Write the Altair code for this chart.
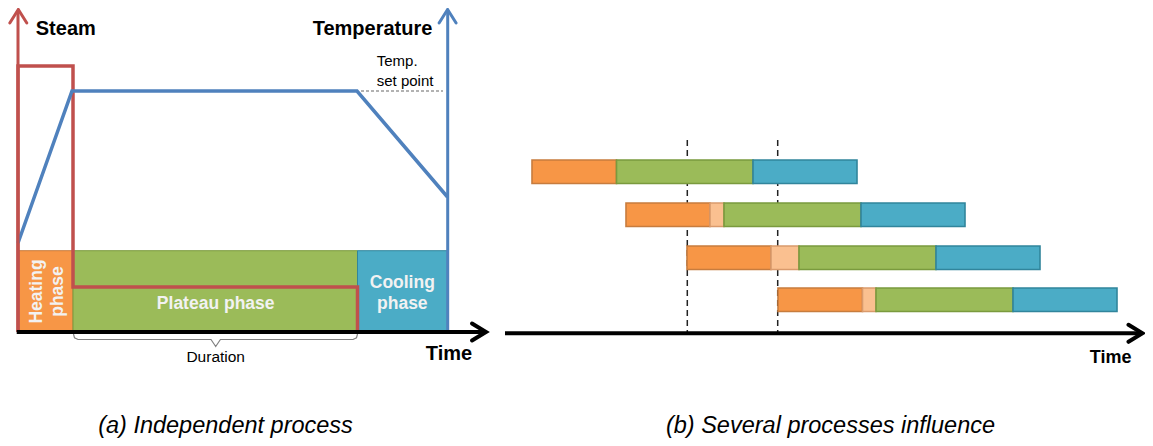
import altair as alt
import pandas as pd

# ---------------- data (diagram units = reference pixel grid) ----------------
# (a) independent process
phase_names = ["Heating", "Plateau", "Cooling"]
phase_edges = [18, 73, 357.5, 447.5]
phase_top = 250.7
base_y = 332
steam_x = [18, 18, 73, 73, 357.5, 357.5]
steam_y = [332, 66, 66, 287, 287, 332]
temp_x = [18, 72, 357, 447.5]
temp_y = [243, 91, 91, 197]
setpoint_x = [361, 443]
setpoint_y = 91

# (b) several processes
row_start = [532, 626, 687, 778]
heat_len = [84.5, 84, 84, 84.5]
wait_len = [0, 14, 28, 13.5]
plateau_len = [136.5, 137, 137, 137]
cool_len = [104, 104, 104, 104]
row_top = [160, 203, 246, 288]
row_h = 23.5
sync_times = [687.3, 777.7]
sync_top = 140

fills = {"Heating": "#F79646", "Wait": "#FAC090", "Plateau": "#9BBB59", "Cooling": "#4BACC6"}
edges = {"Heating": "#C77C3E", "Wait": "#D99A6C", "Plateau": "#7A9A3E", "Cooling": "#31859C"}

# ---------------- scales ----------------
W, H = 1137, 430
xs = alt.Scale(domain=[8, 8 + W], nice=False, zero=False)
ys = alt.Scale(domain=[8, 8 + H], nice=False, zero=False, reverse=True)


def X(f):
    return alt.X(f, type="quantitative", scale=xs, axis=None)


def Y(f):
    return alt.Y(f, type="quantitative", scale=ys, axis=None)


# ---------------- rectangles ----------------
rects = []
for i, name in enumerate(phase_names):
    rects.append(dict(x=phase_edges[i], x2=phase_edges[i + 1], y=phase_top, y2=base_y,
                      fill=fills[name], stroke=edges[name], w=1))
for i in range(len(row_start)):
    t = row_start[i]
    for name, ln in [("Heating", heat_len[i]), ("Wait", wait_len[i]),
                     ("Plateau", plateau_len[i]), ("Cooling", cool_len[i])]:
        if ln > 0:
            rects.append(dict(x=t, x2=t + ln, y=row_top[i], y2=row_top[i] + row_h,
                              fill=fills[name], stroke=edges[name], w=1.6))
        t += ln
rect_df = pd.DataFrame(rects)

rect_layer = alt.Chart(rect_df).mark_rect().encode(
    x=X("x"), x2="x2", y=Y("y"), y2="y2",
    fill=alt.Fill("fill:N", scale=None),
    stroke=alt.Stroke("stroke:N", scale=None),
    strokeWidth=alt.StrokeWidth("w:Q", scale=None),
)

# ---------------- sync dashed lines ----------------
sync_df = pd.DataFrame({"x": sync_times, "y": [sync_top] * 2, "y2": [base_y] * 2})
sync_layer = alt.Chart(sync_df).mark_rule(strokeDash=[6, 4], strokeWidth=1.5, color="#222222").encode(
    x=X("x"), y=Y("y"), y2="y2")

# ---------------- steam / temperature curves ----------------
steam_df = pd.DataFrame({"x": steam_x, "y": steam_y, "o": range(len(steam_x))})
steam_layer = alt.Chart(steam_df).mark_line(color="#C0504D", strokeWidth=3.5, strokeJoin="miter").encode(
    x=X("x"), y=Y("y"), order="o:Q")
temp_df = pd.DataFrame({"x": temp_x, "y": temp_y, "o": range(len(temp_x))})
temp_layer = alt.Chart(temp_df).mark_line(color="#4F81BD", strokeWidth=3.5, strokeJoin="miter").encode(
    x=X("x"), y=Y("y"), order="o:Q")

setp_df = pd.DataFrame({"x": [setpoint_x[0]], "x2": [setpoint_x[1]], "y": [setpoint_y]})
setp_layer = alt.Chart(setp_df).mark_rule(strokeDash=[3, 2], strokeWidth=1.2, color="#666666").encode(
    x=X("x"), x2="x2", y=Y("y"))

# ---------------- axes ----------------
axes_df = pd.DataFrame({
    "x": [18, 447.7, 16.7, 505],
    "x2": [18, 447.7, 484, 1141],
    "y": [332, 332, 332, 333.3],
    "y2": [10, 10, 332, 333.3],
    "c": ["#C0504D", "#4F81BD", "#000000", "#000000"],
    "w": [3, 3, 4, 4],
})
axes_layer = alt.Chart(axes_df).mark_rule().encode(
    x=X("x"), x2="x2", y=Y("y"), y2="y2",
    color=alt.Color("c:N", scale=None), size=alt.Size("w:Q", scale=None))

# arrow heads (chevrons)
tips = [("red", 18.3, 9.5, "up", "#C0504D", 3), ("blue", 447.6, 9.5, "up", "#4F81BD", 3),
        ("ta", 486, 332, "right", "#000000", 4), ("tb", 1142.5, 333.3, "right", "#000000", 4)]
arrow_rows = []
for aid, tx, ty, d, c, w in tips:
    if d == "up":
        pts = [(tx - 8.5, ty + 13.5), (tx, ty), (tx + 8.5, ty + 13.5)]
    else:
        pts = [(tx - 14, ty - 8.5), (tx, ty), (tx - 14, ty + 8.5)]
    for k, (px, py) in enumerate(pts):
        arrow_rows.append(dict(id=aid, x=px, y=py, o=k, c=c, w=w))
arrow_df = pd.DataFrame(arrow_rows)
arrow_layer = alt.Chart(arrow_df).mark_line(strokeJoin="miter", strokeCap="round").encode(
    x=X("x"), y=Y("y"), order="o:Q", detail="id:N",
    color=alt.Color("c:N", scale=None), size=alt.Size("w:Q", scale=None))

# ---------------- brace under plateau ----------------
brace_x = [73.5, 74.5, 78, 211, 215.7, 220.4, 353, 356.5, 357.5]
brace_y = [334, 337.8, 339.5, 339.5, 346.5, 339.5, 339.5, 337.8, 334]
brace_df = pd.DataFrame({"x": brace_x, "y": brace_y, "o": range(len(brace_x))})
brace_layer = alt.Chart(brace_df).mark_line(color="#808080", strokeWidth=1.2).encode(
    x=X("x"), y=Y("y"), order="o:Q")

# ---------------- texts ----------------
FONT = "Liberation Sans"


def text_layer(rows, **kw):
    df = pd.DataFrame(rows, columns=["t", "x", "y", "s"])
    return alt.Chart(df).mark_text(font=FONT, baseline="middle", **kw).encode(
        x=X("x"), y=Y("y"), text="t:N", size=alt.Size("s:Q", scale=None))


bold_black = text_layer([
    ("Steam", 65.8, 28.5, 20), ("Temperature", 372.5, 28.5, 20),
    ("Time", 449, 353.5, 20), ("Time", 1110.7, 357.5, 18)],
    align="center", fontWeight="bold", color="#000000")
setpoint_txt = text_layer([("Temp.", 376.7, 61, 15), ("set point", 376.7, 80.5, 15)],
                          align="left", color="#000000")
duration_txt = text_layer([("Duration", 215.7, 357, 15.5)], align="center", color="#000000")
white_txt = text_layer([
    ("Plateau phase", 215.7, 303.5, 17.5), ("Cooling", 402.3, 282.5, 17.5), ("phase", 402.3, 303.5, 17.5)],
    align="center", fontWeight="bold", color="#F2F2F2")
rot_txt = text_layer([("Heating", 36.7, 291.5, 17.5), ("phase", 57.8, 291.5, 17.5)],
                     align="center", fontWeight="bold", color="#F2F2F2", angle=270)
captions = text_layer([
    ("(a) Independent process", 225.5, 425.5, 23.5),
    ("(b) Several processes influence", 830.5, 425.5, 23.5)],
    align="center", fontStyle="italic", color="#000000")

chart = alt.layer(
    sync_layer, rect_layer, steam_layer, temp_layer, setp_layer, brace_layer,
    axes_layer, arrow_layer,
    bold_black, setpoint_txt, duration_txt, white_txt, rot_txt, captions,
).properties(width=W, height=H, autosize="none", padding=0
).configure(background="white", view=alt.ViewConfig(stroke=None))

chart.save("out.html", embed_options={"renderer": "svg", "actions": False})
